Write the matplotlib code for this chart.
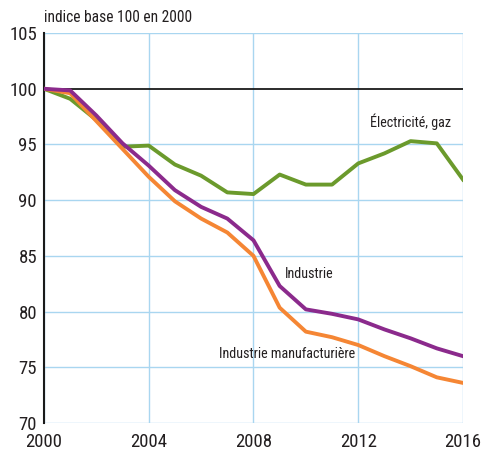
import matplotlib.pyplot as plt

plt.rcParams['font.family'] = ['Roboto Condensed', 'Fira Sans Condensed',
                               'Liberation Sans Narrow', 'DejaVu Sans']

# data: index base 100 in 2000
years = list(range(2000, 2017))
elec_gaz = [100, 99.1, 97.2, 94.8, 94.9, 93.2, 92.2, 90.7, 90.55, 92.3,
            91.4, 91.4, 93.3, 94.2, 95.3, 95.1, 91.85]
industrie = [100, 99.85, 97.6, 95.1, 93.1, 90.9, 89.4, 88.35, 86.4, 82.3,
             80.2, 79.8, 79.3, 78.4, 77.6, 76.7, 76.0]
manuf = [100, 99.6, 97.1, 94.6, 92.1, 89.9, 88.35, 87.1, 85.0, 80.35,
         78.2, 77.7, 77.0, 76.0, 75.1, 74.1, 73.6]
xticks = [2000, 2004, 2008, 2012, 2016]
yticks = [70, 75, 80, 85, 90, 95, 100, 105]

green = "#6b9a2c"
purple = "#8b2a8c"
orange = "#f58634"
grid = "#a9d6f0"
txt = "#231f20"

fig = plt.figure(figsize=(4.85, 4.53), dpi=100)
ax = fig.add_axes([0.0907, 0.0662, 0.8639, 0.8608])

for y in yticks:
    if y != 100:
        ax.axhline(y, color=grid, lw=1, zorder=1)
for x in xticks:
    ax.axvline(x, color=grid, lw=1, zorder=1)
ax.axhline(100, color="#1a1a1a", lw=1.3, zorder=2)

ax.plot(years, elec_gaz, color=green, lw=2.8, zorder=3)
ax.plot(years, industrie, color=purple, lw=2.8, zorder=4)
ax.plot(years, manuf, color=orange, lw=2.8, zorder=3)

ax.set_xlim(2000, 2016)
ax.set_ylim(70, 105)
ax.set_xticks(xticks)
ax.set_yticks(yticks)
ax.tick_params(length=0, labelsize=13.5, colors=txt)
ax.tick_params(axis='x', pad=7)
ax.tick_params(axis='y', pad=5)
for s in ["top", "right", "bottom"]:
    ax.spines[s].set_visible(False)
ax.spines["left"].set_color("#1a1a1a")
ax.spines["left"].set_linewidth(1.5)

ax.text(2014.0, 97.0, "Électricité, gaz", fontsize=10.2, ha="center", va="center", color=txt)
ax.text(2009.2, 83.35, "Industrie", fontsize=10.2, ha="left", va="center", color=txt)
ax.text(2006.7, 76.2, "Industrie manufacturière", fontsize=10.2, ha="left", va="center",
        color=txt)

fig.text(0.0907, 0.962, "indice base 100 en 2000", fontsize=11.2, ha="left", va="center",
         color=txt)

fig.savefig("out.png", dpi=100)
